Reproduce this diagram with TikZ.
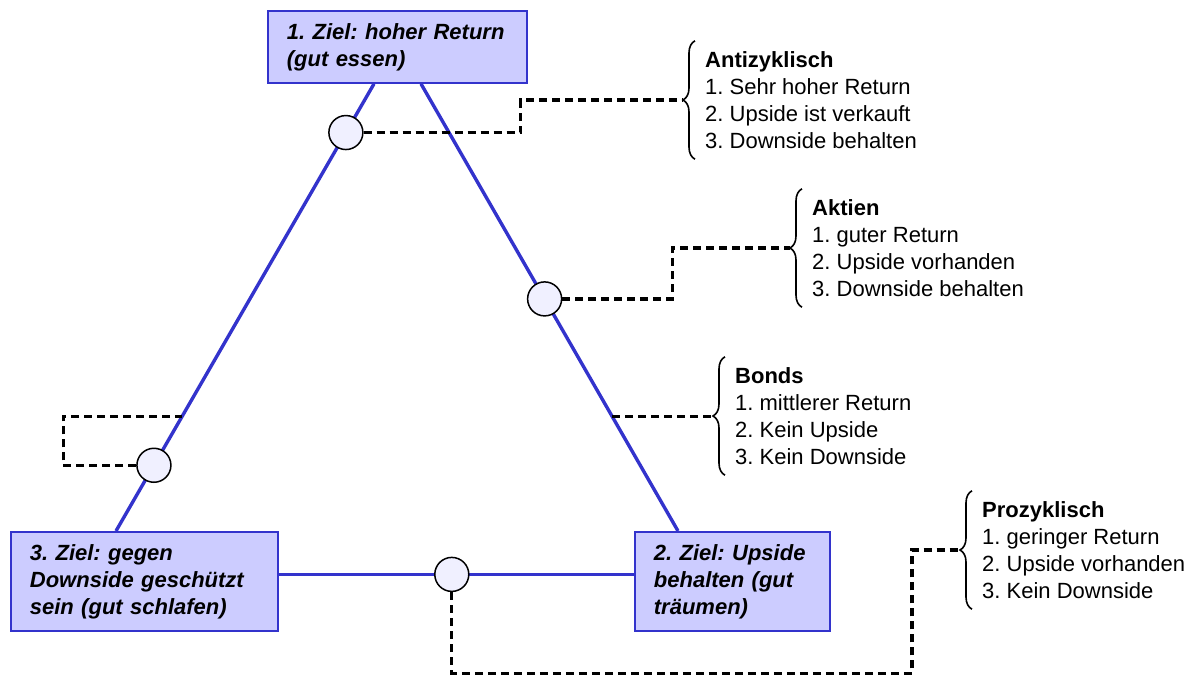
\documentclass[tikz,border=0pt]{standalone}
\usepackage{fontspec}
\setmainfont{Liberation Sans}
\usetikzlibrary{calc, decorations.pathreplacing}
\definecolor{goalfill}{RGB}{204,204,255}
\definecolor{goalline}{RGB}{51,51,204}
\frenchspacing

\begin{document}
\begin{tikzpicture}[
    x=1pt, y=-1pt,
    font=\fontsize{22}{27}\selectfont,
    goal/.style={draw=goalline, line width=1.8pt, fill=goalfill, anchor=north west,
                 align=left, inner xsep=19pt, inner ysep=0pt,
                 font=\fontsize{22}{27}\selectfont\bfseries\itshape},
    edge/.style={draw=goalline, line width=3.4pt},
    dot/.style={circle, draw, line width=1.5pt, fill=blue!6,
                minimum size=34pt, inner sep=0pt},
    link/.style={draw, line width=3.2pt, dash pattern=on 8pt off 5pt},
    fund/.style={anchor=west, align=left, minimum height=118pt,
                 inner xsep=10pt, inner ysep=0pt},
    curly/.style={draw, line width=1.6pt, decorate,
                  decoration={brace, amplitude=12pt}}
]
\useasboundingbox (0,0) rectangle (1193,677);

% 1) The three goals.
\node[goal, text width=221pt, minimum height=72pt] (goalReturn) at (267,10)
   {1. Ziel: hoher Return\\(gut essen)};
\node[goal, text width=229pt, minimum height=99pt] (goalDownside) at (10,531)
   {3. Ziel: gegen\\Downside geschützt\\sein (gut schlafen)};
\node[goal, text width=157pt, minimum height=99pt] (goalUpside) at (634,531)
   {2. Ziel: Upside\\behalten (gut\\träumen)};

% 2) Triangle between the goals.
\draw[edge] ($(goalReturn.south west)+(107,0)$) -- ($(goalDownside.north west)+(106,0)$)
   coordinate[pos=0.109] (tapA) coordinate[pos=0.744] (tapL) coordinate[pos=0.853] (tapC);
\draw[edge] ($(goalReturn.south west)+(154,0)$) -- ($(goalUpside.north west)+(44,0)$)
   coordinate[pos=0.481] (tapB) coordinate[pos=0.744] (tapR);
\draw[edge] ($(goalDownside.east)+(0,-7)$) -- ($(goalUpside.west)+(0,-7)$)
   coordinate[pos=0.487] (tapD);

\node[dot] (dotAnti) at (tapA) {};
\node[dot] (dotAktien) at (tapB) {};
\node[dot] (dotLeft) at (tapC) {};
\node[dot] (dotPro) at (tapD) {};

% 3) Asset classes with braces.
\node[fund] (anti) at (695,100)
   {\textbf{Antizyklisch}\\1. Sehr hoher Return\\2. Upside ist verkauft\\3. Downside behalten};
\node[fund] (aktien) at (802,248)
   {\textbf{Aktien}\\1. guter Return\\2. Upside vorhanden\\3. Downside behalten};
\node[fund] (bonds) at (725,416)
   {\textbf{Bonds}\\1. mittlerer Return\\2. Kein Upside\\3. Kein Downside};
\node[fund] (pro) at (972,550)
   {\textbf{Prozyklisch}\\1. geringer Return\\2. Upside vorhanden\\3. Kein Downside};

\foreach \g in {anti,aktien,bonds,pro} {
    \draw[curly] (\g.south west) -- (\g.north west);
    \coordinate (\g Tip) at ($(\g.west)+(-12,0)$);
}

% 4) Dashed links from the triangle to the braces.
\draw[link] (dotAnti.east) -- ++(157,0) |- (antiTip);
\draw[link] (dotAktien.east) -- ++(110,0) |- (aktienTip);
\draw[link] (tapR) -- (tapR -| bondsTip) -- (bondsTip);
\draw[link] (dotLeft.west) -- ++(-73,0) |- (tapL);
\draw[link] (dotPro.south) -- ++(0,81) -| ($(proTip)+(-48,0)$) -- (proTip);

\end{tikzpicture}
\end{document}
